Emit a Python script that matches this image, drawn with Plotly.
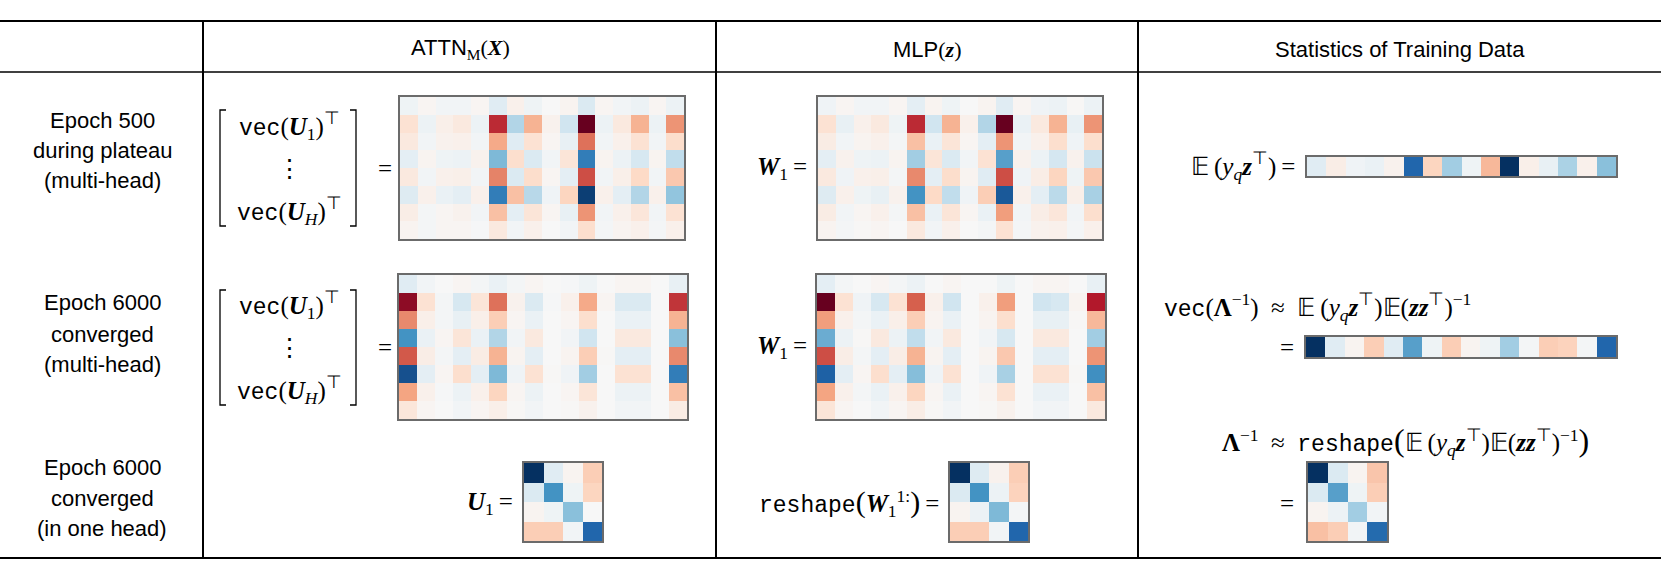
import plotly.graph_objects as go

W, H = 1661, 583

# ---------------- data ----------------
attn_epoch500 = [
    [-0.05, 0.02, -0.03, -0.03, 0.02, -0.12, 0.05, -0.05, 0.00, 0.03, -0.15, 0.02, -0.03, -0.06, 0.02, -0.06],
    [0.15, -0.06, 0.06, 0.10, -0.06, 0.75, -0.30, 0.35, 0.04, -0.20, 1.00, -0.06, 0.10, 0.35, -0.06, 0.45],
    [0.10, -0.03, 0.04, 0.05, -0.03, 0.38, -0.12, 0.15, 0.02, -0.08, 0.55, -0.03, 0.05, 0.15, -0.03, 0.18],
    [-0.10, 0.03, -0.05, -0.06, 0.04, -0.45, 0.17, -0.15, -0.03, 0.13, -0.70, 0.03, -0.06, -0.17, 0.03, -0.25],
    [0.10, -0.03, 0.05, 0.06, -0.03, 0.50, -0.15, 0.18, 0.02, -0.10, 0.65, -0.03, 0.06, 0.20, -0.03, 0.27],
    [-0.13, 0.05, -0.07, -0.10, 0.05, -0.70, 0.30, -0.28, -0.04, 0.22, -0.95, 0.05, -0.10, -0.30, 0.05, -0.40],
    [0.07, -0.02, 0.02, 0.04, -0.03, 0.30, -0.10, 0.13, 0.02, -0.08, 0.45, -0.03, 0.05, 0.12, -0.03, 0.15],
    [0.03, -0.02, 0.02, 0.02, -0.01, 0.10, -0.03, 0.05, 0.00, -0.03, 0.17, -0.02, 0.03, 0.05, -0.02, 0.05],
]
mlp_epoch500 = [
    [-0.04, 0.02, -0.03, -0.03, 0.02, -0.10, 0.03, -0.05, 0.00, 0.03, -0.12, 0.02, -0.04, -0.06, 0.01, -0.06],
    [0.15, -0.08, 0.05, 0.10, -0.05, 0.75, -0.20, 0.35, 0.05, -0.30, 1.00, -0.07, 0.10, 0.35, -0.08, 0.45],
    [0.08, -0.03, 0.03, 0.05, -0.02, 0.30, -0.07, 0.13, 0.02, -0.10, 0.45, -0.03, 0.05, 0.17, -0.04, 0.17],
    [-0.10, 0.04, -0.05, -0.06, 0.03, -0.35, 0.13, -0.15, -0.03, 0.15, -0.55, 0.04, -0.06, -0.18, 0.04, -0.22],
    [0.10, -0.04, 0.05, 0.06, -0.02, 0.48, -0.10, 0.18, 0.03, -0.12, 0.65, -0.04, 0.07, 0.22, -0.05, 0.27],
    [-0.13, 0.05, -0.05, -0.08, 0.04, -0.60, 0.20, -0.25, -0.04, 0.25, -0.85, 0.05, -0.10, -0.27, 0.06, -0.33],
    [0.08, -0.03, 0.02, 0.05, -0.02, 0.30, -0.07, 0.13, 0.02, -0.07, 0.42, -0.03, 0.07, 0.12, -0.03, 0.17],
    [0.03, -0.02, 0.01, 0.02, 0.00, 0.10, -0.03, 0.05, 0.00, -0.02, 0.15, -0.02, 0.04, 0.05, -0.02, 0.05],
]
attn_epoch6000 = [
    [-0.12, -0.03, 0.00, 0.02, -0.02, -0.07, -0.02, 0.02, 0.00, -0.01, -0.05, 0.00, 0.02, 0.02, 0.00, -0.08],
    [0.90, 0.15, -0.02, -0.17, 0.13, 0.55, 0.04, -0.15, -0.01, 0.05, 0.38, 0.02, -0.15, -0.15, 0.00, 0.72],
    [0.48, 0.06, -0.02, -0.08, 0.06, 0.25, 0.02, -0.07, 0.00, 0.02, 0.17, 0.00, -0.07, -0.07, 0.00, 0.35],
    [-0.60, -0.07, 0.02, 0.13, -0.07, -0.30, -0.03, 0.10, 0.00, -0.03, -0.20, 0.00, 0.10, 0.10, 0.00, -0.42],
    [0.62, 0.07, -0.02, -0.10, 0.08, 0.35, 0.03, -0.10, 0.00, 0.03, 0.25, 0.01, -0.10, -0.10, 0.00, 0.48],
    [-0.88, -0.10, 0.02, 0.17, -0.10, -0.45, -0.04, 0.15, 0.01, -0.04, -0.35, 0.00, 0.15, 0.15, 0.00, -0.70],
    [0.40, 0.05, -0.01, -0.06, 0.05, 0.22, 0.02, -0.06, 0.00, 0.02, 0.13, 0.00, -0.06, -0.06, 0.00, 0.30],
    [0.12, 0.02, 0.00, -0.03, 0.02, 0.06, 0.01, -0.03, 0.00, 0.01, 0.04, 0.00, -0.03, -0.03, 0.00, 0.08],
]
mlp_epoch6000 = [
    [-0.10, -0.02, 0.00, 0.02, -0.02, -0.06, 0.00, 0.02, 0.00, 0.00, -0.05, 0.00, 0.02, 0.02, 0.00, -0.08],
    [1.00, 0.15, -0.04, -0.17, 0.15, 0.60, 0.05, -0.20, 0.00, 0.05, 0.42, 0.00, -0.20, -0.17, 0.03, 0.80],
    [0.42, 0.05, -0.02, -0.07, 0.06, 0.25, 0.03, -0.07, 0.00, 0.03, 0.17, 0.00, -0.08, -0.08, 0.01, 0.33],
    [-0.50, -0.06, 0.01, 0.10, -0.06, -0.25, -0.03, 0.10, 0.00, -0.03, -0.17, 0.00, 0.10, 0.10, 0.00, -0.35],
    [0.65, 0.07, -0.02, -0.10, 0.07, 0.35, 0.03, -0.10, 0.00, 0.03, 0.27, 0.00, -0.10, -0.10, 0.00, 0.45],
    [-0.82, -0.10, 0.02, 0.17, -0.10, -0.43, -0.04, 0.15, 0.00, -0.04, -0.33, 0.00, 0.15, 0.15, 0.01, -0.62],
    [0.40, 0.05, -0.02, -0.07, 0.05, 0.22, 0.02, -0.07, 0.00, 0.02, 0.15, 0.00, -0.07, -0.07, 0.00, 0.30],
    [0.13, 0.02, 0.00, -0.03, 0.02, 0.07, 0.01, -0.03, 0.00, 0.01, 0.04, 0.00, -0.03, -0.03, 0.00, 0.10],
]
stat_E_yz = [-0.12, 0.07, -0.04, -0.07, 0.04, -0.80, 0.22, -0.35, -0.05, 0.33, -1.00, 0.06, -0.08, -0.32, 0.05, -0.42]
stat_vec_lambda_inv = [-1.00, -0.12, 0.03, 0.25, -0.12, -0.55, -0.05, 0.25, 0.03, -0.05, -0.35, -0.02, 0.25, 0.23, -0.02, -0.80]
u1_one_head = [
    [-1.00, -0.12, 0.03, 0.25],
    [-0.15, -0.60, -0.05, 0.22],
    [0.03, -0.05, -0.42, 0.00],
    [0.25, 0.25, -0.03, -0.80],
]
w1_reshape = [
    [-1.00, -0.13, 0.04, 0.25],
    [-0.15, -0.60, -0.06, 0.23],
    [0.03, -0.06, -0.45, -0.02],
    [0.25, 0.25, -0.03, -0.80],
]
lambda_inv = [
    [-1.00, -0.15, 0.03, 0.28],
    [-0.15, -0.55, -0.05, 0.25],
    [0.03, -0.06, -0.35, -0.03],
    [0.30, 0.25, -0.03, -0.78],
]

col_headers = ["ATTN", "MLP", "Statistics of Training Data"]
row_labels = [
    ["Epoch 500", "during plateau", "(multi-head)"],
    ["Epoch 6000", "converged", "(multi-head)"],
    ["Epoch 6000", "converged", "(in one head)"],
]

# ---------------- styling ----------------
RDBU = ['rgb(5,48,97)', 'rgb(33,102,172)', 'rgb(67,147,195)', 'rgb(146,197,222)',
        'rgb(209,229,240)', 'rgb(247,247,247)', 'rgb(253,219,199)', 'rgb(244,165,130)',
        'rgb(214,96,77)', 'rgb(178,24,43)', 'rgb(103,0,31)']
CS = [[i / 10, c] for i, c in enumerate(RDBU)]
SANS = "Liberation Sans"
SERIF = "Liberation Serif"
MONO = "Liberation Mono"
FS = 22      # sans labels
MS = 25      # math text

def px(x):
    return x / W

def py(y):
    return 1 - y / H

panels = [
    (attn_epoch500, (400, 97, 684, 239)),
    (mlp_epoch500, (818, 97, 1102, 239)),
    (attn_epoch6000, (399, 275, 687, 419)),
    (mlp_epoch6000, (817, 275, 1105, 419)),
    ([stat_E_yz], (1307, 157, 1616, 176)),
    ([stat_vec_lambda_inv], (1306, 337, 1616, 357)),
    (u1_one_head, (524, 463, 602, 541)),
    (w1_reshape, (950, 463, 1028, 541)),
    (lambda_inv, (1308, 463, 1387, 541)),
]

fig = go.Figure()
layout_axes = {}
for i, (z, (x0, y0, x1, y1)) in enumerate(panels, start=1):
    xa = 'x' if i == 1 else f'x{i}'
    ya = 'y' if i == 1 else f'y{i}'
    fig.add_trace(go.Heatmap(z=z, xaxis=xa, yaxis=ya, colorscale=CS, zmin=-1, zmax=1,
                             showscale=False, hoverinfo='skip'))
    nr, nc = len(z), len(z[0])
    common = dict(showgrid=False, zeroline=False, showticklabels=False, ticks='',
                  showline=True, mirror=True, linecolor='#6b6b6b', linewidth=1.5,
                  fixedrange=True)
    layout_axes['xaxis' if i == 1 else f'xaxis{i}'] = dict(
        domain=[px(x0), px(x1)], range=[-0.5, nc - 0.5], anchor=ya, **common)
    layout_axes['yaxis' if i == 1 else f'yaxis{i}'] = dict(
        domain=[py(y1), py(y0)], range=[nr - 0.5, -0.5], anchor=xa, **common)

fig.update_layout(**layout_axes)

# ---------------- table lines ----------------
shapes = []
def hline(y, w):
    shapes.append(dict(type='line', xref='paper', yref='paper', x0=0, x1=1,
                       y0=py(y), y1=py(y), line=dict(color='black', width=w)))
def vline(x, ya, yb, w):
    shapes.append(dict(type='line', xref='paper', yref='paper', x0=px(x), x1=px(x),
                       y0=py(ya), y1=py(yb), line=dict(color='black', width=w)))
hline(21, 2)
hline(72, 1.5)
hline(558, 2)
for xv in (203, 716, 1138):
    vline(xv, 21, 558, 2)

def bracket(xl, xr, yt, yb):
    t = 6
    for path in (f"M {px(xl+t)},{py(yt)} L {px(xl)},{py(yt)} L {px(xl)},{py(yb)} L {px(xl+t)},{py(yb)}",
                 f"M {px(xr-t)},{py(yt)} L {px(xr)},{py(yt)} L {px(xr)},{py(yb)} L {px(xr-t)},{py(yb)}"):
        shapes.append(dict(type='path', xref='paper', yref='paper', path=path,
                           line=dict(color='black', width=1.3)))
bracket(220, 356, 110, 226)
bracket(220, 356, 290, 405)
fig.update_layout(shapes=shapes)

# ---------------- text ----------------
ann = []
def text(s, x, y, anchor='center', size=MS, family=SERIF):
    ann.append(dict(text=s, x=px(x), y=py(y), xref='paper', yref='paper', showarrow=False,
                    xanchor=anchor, yanchor='middle', font=dict(family=family, size=size, color='black')))

def bi(s):
    return f"<b><i>{s}</i></b>"
def mono(s):
    return f"<span style='font-family:{MONO};font-size:23px'>{s}</span>"
def sans(s):
    return f"<span style='font-family:{SANS}'>{s}</span>"
def big(s, n=32):
    return f"<span style='font-size:{n}px'>{s}</span>"

T = "⊤"
EQ = "\u2009=\u2009"
APPROX = "\u2002≈\u2002"
text(f"{sans(col_headers[0])}<sub>M</sub>({bi('X')})", 460, 49, size=FS)
text(f"{sans(col_headers[1])}({bi('z')})", 927, 49, size=FS)
text(col_headers[2], 1400, 49, size=FS, family=SANS)

for lines, ys in zip(row_labels, [(120, 150, 181), (302, 334, 364), (467, 498, 528)]):
    for s, yv in zip(lines, ys):
        text(s, 102, yv, size=FS, family=SANS)

vecU1 = f"{mono('vec')}({bi('U')}<sub>1</sub>)<sup>{T}</sup>"
vecUH = f"{mono('vec')}({bi('U')}<sub><i>H</i></sub>)<sup>{T}</sup>"
for yc in (168, 347):
    text(vecU1, 289, yc - 42)
    text("⋮", 289, yc)
    text(vecUH, 289, yc + 43)
    text("=", 385, yc)
    text(f"{bi('W')}<sub>1</sub>{EQ}", 814, yc, anchor='right')

E = "𝔼"
Eyz = f"{E}\u2009(<i>y</i><sub><i>q</i></sub>{bi('z')}<sup>{T}</sup>)"
Ezz = f"{E}({bi('z')}{bi('z')}<sup>{T}</sup>)<sup>−1</sup>"
LAM = "<b>Λ</b>"
text(f"{Eyz}{EQ}", 1302, 166, anchor='right')
text(f"{mono('vec')}({LAM}<sup>−1</sup>){APPROX}{Eyz}{Ezz}", 1162, 307, anchor='left')
text("=", 1287, 347)
text(f"{LAM}<sup>−1</sup>{APPROX}{mono('reshape')}{big('(')}{Eyz}{Ezz}{big(')')}",
     1220, 441, anchor='left')
text("=", 1287, 503)
text(f"{bi('U')}<sub>1</sub>{EQ}", 520, 503, anchor='right')
text(f"{mono('reshape')}{big('(', 30)}{bi('W')}<sub>1</sub><sup>1:</sup>{big(')', 30)}{EQ}",
     946, 503, anchor='right')

fig.update_layout(annotations=ann, width=W, height=H, autosize=False,
                  margin=dict(l=0, r=0, t=0, b=0),
                  paper_bgcolor='white', plot_bgcolor='white', showlegend=False)

fig.write_html("out.html", config={"displayModeBar": False},
               post_script="document.body.style.margin='0px';document.body.style.overflow='hidden';")
